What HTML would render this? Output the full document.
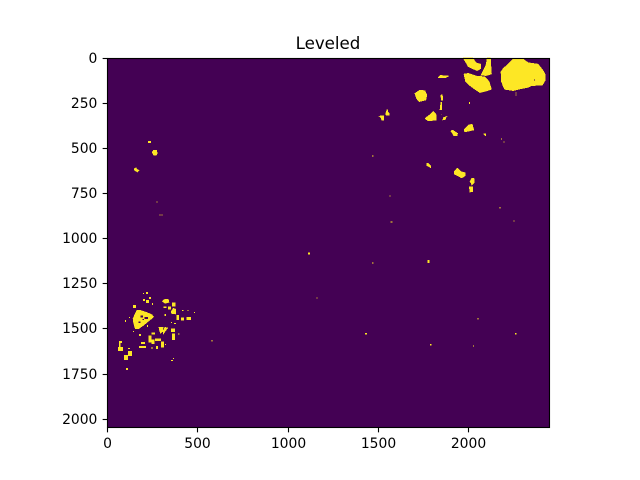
<!DOCTYPE html>
<html>
<head>
<meta charset="utf-8">
<title>Leveled</title>
<style>
html,body{margin:0;padding:0;background:#fff;}
svg{display:block;}
text{font-family:"DejaVu Sans","Liberation Sans",sans-serif;fill:#000;}
</style>
</head>
<body>
<svg id="chart" xmlns="http://www.w3.org/2000/svg" width="640" height="480" viewBox="0 0 640 480"></svg>
<script>
// Image size in data units
const imageWidth = 2448;
const imageHeight = 2048;
// Tick labels
const xTicks = [0, 500, 1000, 1500, 2000];
const yTicks = [0, 250, 500, 750, 1000, 1250, 1500, 1750, 2000];
// Bright regions as outlines, flat lists of x,y in image coordinates
const regionOutlines = [
  [2248,6,2303,6,2331,26,2386,34,2405,58,2418,76,2427,95,2427,122,2410,150,2350,154,2331,163,2276,174,2248,181,2202,174,2193,159,2183,131,2180,76,2193,58,2207,45,2228,26],
  [1975,89,1999,85,2045,100,2091,104,2115,131,2128,174,2100,183,2063,192,2036,174,1999,146,1984,131],
  [1971,0,2026,0,2041,26,2069,34,2069,58,2048,71,1999,48],
  [2104,0,2122,0,2128,89,2097,98,2069,95,2097,39],
  [1845,96,1892,100,1875,109,1845,109,1832,109],
  [1703,196,1731,178,1759,181,1770,205,1764,233,1727,242,1712,224],
  [1759,335,1795,307,1805,294,1823,316,1823,344,1777,349],
  [1847,205,1856,205,1858,233,1849,233],
  [1847,246,1853,246,1851,288,1842,288],
  [1860,331,1884,322,1875,331,1875,340,1858,344],
  [1903,405,1912,399,1940,418,1938,431,1919,431],
  [1975,399,1999,372,2021,366,2030,399,1980,410],
  [2085,421,2097,421,2097,432,2089,427],
  [1504,322,1532,320,1532,344,1520,344,1515,331],
  [1548,288,1554,288,1554,299,1561,307,1561,316,1543,316,1543,303],
  [1768,584,1778,584,1792,597,1791,608,1770,597],
  [1920,630,1938,610,1959,630,1981,635,1981,654,1962,665,1944,654,1922,643],
  [2008,685,2018,667,2031,667,2031,691,2018,704,2014,691],
  [2005,713,2023,713,2025,741,2007,743],
  [247,521,256,510,272,510,276,528,271,538,256,538],
  [147,615,158,608,165,617,175,624,165,632,149,621],
  [141,1444,163,1398,182,1398,210,1407,246,1422,256,1435,200,1481,173,1500,154,1500,145,1472],
  [304,1347,318,1336,337,1336,341,1354,318,1360],
  [352,1406,365,1387,377,1391,379,1419,352,1415],
  [285,1493,309,1493,304,1517,294,1526,287,1507],
  [318,1493,335,1494,318,1517,309,1531,307,1513]
];
// Small bright specks as x, y, width, height in image coordinates
const regionSpecks = [
  [2261,190,6,8],[2261,203,5,5],[2004,244,6,11],[1847,312,5,5],[2181,445,6,6],[2193,462,6,6],
  [1467,539,6,6],[1562,761,6,6],[2171,827,6,6],[2249,900,6,6],[1569,905,11,6],
  [224,460,17,11],[271,794,6,6],[289,866,6,6],[298,866,6,6],
  [1110,1078,11,11],[1467,1132,6,6],[1772,1120,11,17],[1157,1326,6,6],[2049,1442,6,6],
  [2259,1525,6,6],[1426,1525,11,6],[1788,1586,6,6],[2026,1592,6,6],[575,1564,6,6],
  [141,1369,17,17],[97,1452,6,11],[119,1435,6,6],[197,1302,6,6],[213,1297,11,11],
  [197,1336,11,11],[213,1341,17,17],[230,1324,11,11],[246,1358,6,11],[219,1480,6,11],[141,1513,6,6],
  [174,1530,11,11],[309,1376,17,9],[335,1376,17,17],[357,1354,20,24],[315,1419,9,11],[352,1463,6,6],
  [368,1469,11,6],[381,1424,15,28],[407,1437,17,18],[437,1435,26,17],[414,1397,6,6],[442,1397,6,6],
  [479,1408,6,6],[392,1526,6,6],[352,1498,22,20],[357,1526,17,36],[226,1539,17,37],[243,1522,20,9],
  [245,1559,15,26],[263,1553,33,15],[296,1572,17,33],[185,1574,22,11],[174,1596,39,11],[243,1602,6,11],
  [269,1596,11,17],[318,1585,6,6],[64,1568,17,11],[64,1579,7,22],[58,1602,28,22],[113,1607,11,6],
  [113,1624,22,28],[91,1646,22,28],[102,1718,11,11],[352,1674,11,6],[363,1662,6,6]
];
// Dark holes inside bright regions as x, y, width, height in image coordinates
const regionHoles = [
  [2364,119,6,6],[182,1426,15,11],[206,1435,18,11],[173,1459,9,9],[195,1445,8,8]
];

const NS = 'http://www.w3.org/2000/svg';
const svg = document.getElementById('chart');
const axisTop = 57.6, axisBottom = 427.2, figCenter = 328;
const pxPerUnit = (axisBottom - axisTop) / imageHeight;
const axisLeft = figCenter - imageWidth * pxPerUnit / 2;
const axisRight = axisLeft + imageWidth * pxPerUnit;
const snapLeft = Math.round(axisLeft) + 0.5;
const snapRight = Math.round(axisRight) + 0.5;
const snapTop = Math.round(axisTop) + 0.5;
const snapBottom = Math.round(axisBottom) + 0.5;
function xScale(v) { return axisLeft + (v + 0.5) * pxPerUnit; }
function yScale(v) { return axisTop + (v + 0.5) * pxPerUnit; }
function markX(v) { return xScale(v) + 0.3; }
function markY(v) { return yScale(v) + 0.3; }
function make(tag, attrs, parent) {
  const el = document.createElementNS(NS, tag);
  for (const k in attrs) el.setAttribute(k, attrs[k]);
  parent.appendChild(el);
  return el;
}

const background = make('rect', {x: snapLeft, y: snapTop, width: snapRight - snapLeft, height: snapBottom - snapTop, fill: '#440154'}, svg);



const regions = make('g', {fill: '#fde725', 'shape-rendering': 'crispEdges'}, svg);


regionOutlines.forEach(function (outline) {
  const pts = [];
  for (let i = 0; i < outline.length; i += 2) {
    pts.push(markX(outline[i]).toFixed(2) + ',' + markY(outline[i + 1]).toFixed(2));
  }
  const poly = make('polygon', {points: pts.join(' '), stroke: '#fde725', 'stroke-width': 0.5, 'stroke-linejoin': 'round'}, regions);
  
  
});
regionSpecks.forEach(function (s) {
  const r = make('rect', {
    x: markX(s[0]).toFixed(2),
    y: markY(s[1]).toFixed(2),
    width: (s[2] * pxPerUnit).toFixed(2),
    height: (s[3] * pxPerUnit).toFixed(2)
  }, regions);
  
  
});
regionHoles.forEach(function (s) {
  const r = make('rect', {
    x: markX(s[0]).toFixed(2),
    y: markY(s[1]).toFixed(2),
    width: (s[2] * pxPerUnit).toFixed(2),
    height: (s[3] * pxPerUnit).toFixed(2),
    fill: '#440154'
  }, regions);
  
  
});

const frame = make('rect', {x: snapLeft, y: snapTop, width: snapRight - snapLeft, height: snapBottom - snapTop, fill: 'none', stroke: '#000', 'stroke-width': 1.11}, svg);



xTicks.forEach(function (t) {
  const px = Math.round(xScale(t)) + 0.5;
  const tick = make('line', {x1: px, x2: px, y1: snapBottom, y2: snapBottom + 4.86, stroke: '#000', 'stroke-width': 1.11}, svg);
  
  
  const label = make('text', {x: px, y: 448, 'text-anchor': 'middle', 'font-size': 13.89}, svg);
  
  
  label.textContent = t;
});
yTicks.forEach(function (t) {
  const py = Math.round(yScale(t)) + 0.5;
  const tick = make('line', {x1: snapLeft - 4.86, x2: snapLeft, y1: py, y2: py, stroke: '#000', 'stroke-width': 1.11}, svg);
  
  
  const label = make('text', {x: axisLeft - 9.72, y: py + 4.5, 'text-anchor': 'end', 'font-size': 13.89}, svg);
  
  
  label.textContent = t;
});

const title = make('text', {x: figCenter, y: 49, 'text-anchor': 'middle', 'font-size': 16.67}, svg);


title.textContent = 'Leveled';
</script>
</body>
</html>
